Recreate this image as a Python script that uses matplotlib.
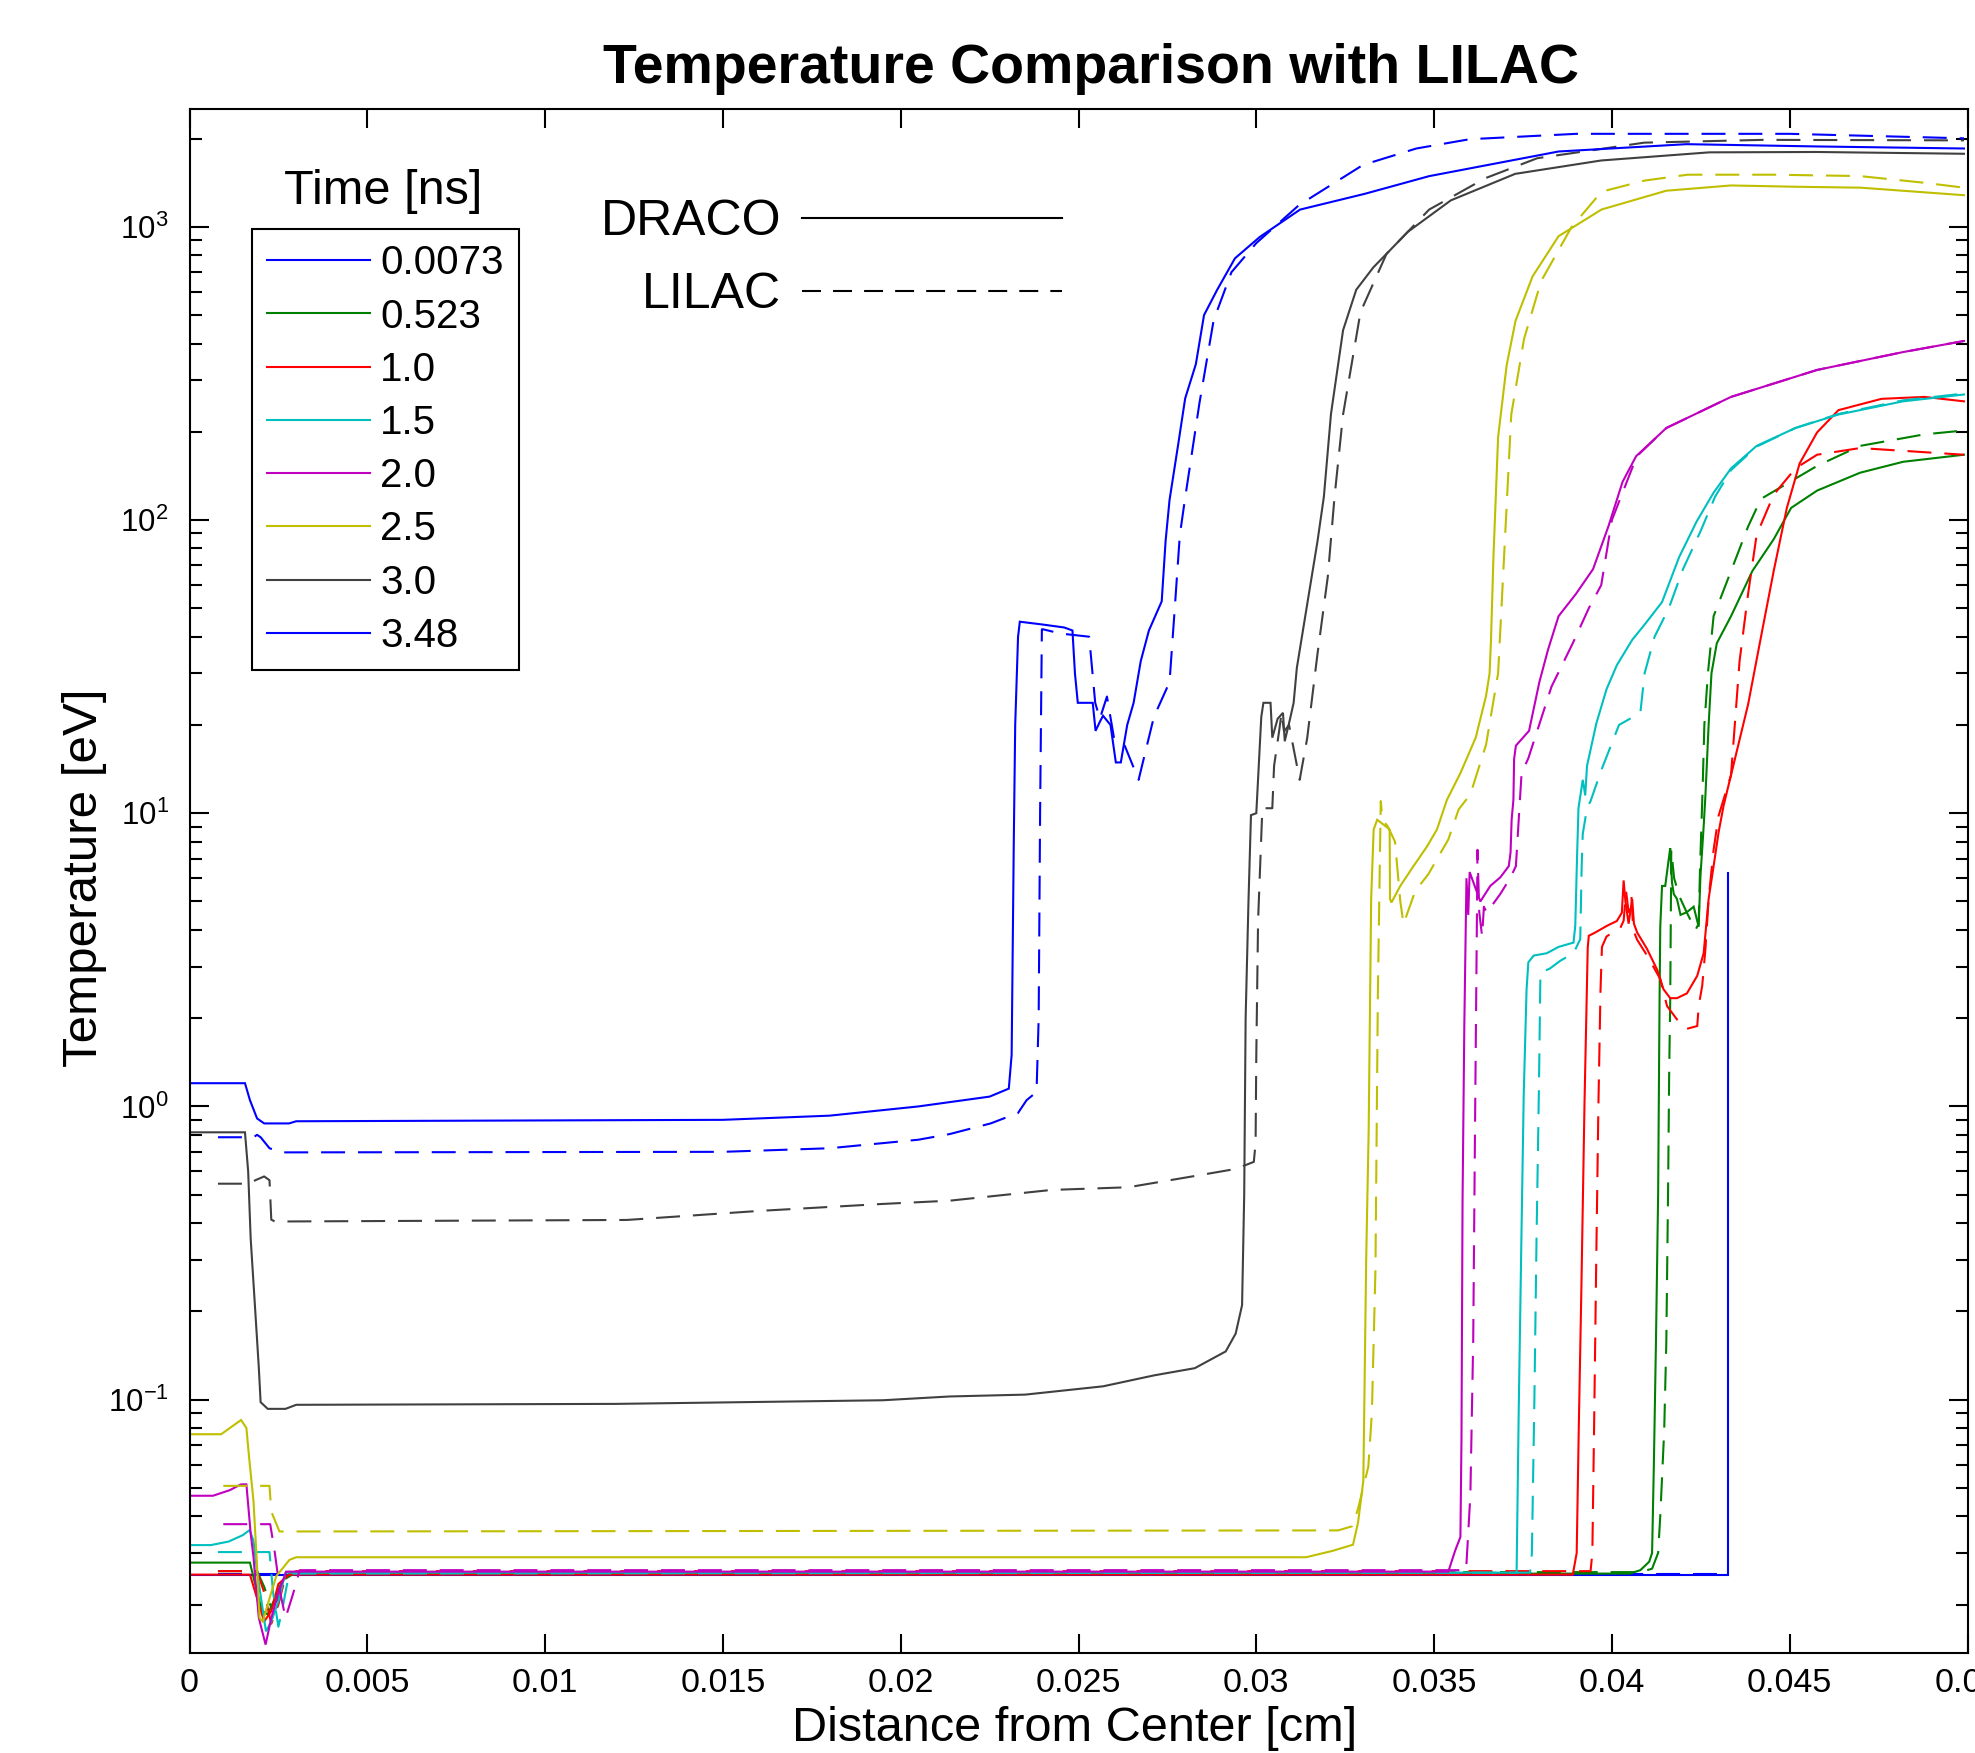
import numpy as np
import matplotlib
matplotlib.use("Agg")
import matplotlib.pyplot as plt
from matplotlib.lines import Line2D
from matplotlib.ticker import LogLocator, NullFormatter

plt.rcParams['font.family'] = ['Liberation Sans', 'DejaVu Sans']
plt.rcParams['mathtext.fontset'] = 'custom'
plt.rcParams['mathtext.rm'] = 'Liberation Sans'
plt.rcParams['mathtext.it'] = 'Liberation Sans:italic'
plt.rcParams['mathtext.bf'] = 'Liberation Sans:bold'
plt.rcParams['mathtext.default'] = 'regular'

# legend entries (time in ns) and MATLAB-style line colours
times = ['0.0073', '0.523', '1.0', '1.5', '2.0', '2.5', '3.0', '3.48']
colors = ['#0000ff', '#008000', '#ff0000', '#00bfbf', '#bf00bf', '#bfbf00', '#404040', '#0000ff']

xticks = [0, 0.005, 0.01, 0.015, 0.02, 0.025, 0.03, 0.035, 0.04, 0.045, 0.05]
xtick_labels = ['0', '0.005', '0.01', '0.015', '0.02', '0.025', '0.03', '0.035', '0.04', '0.045', '0.05']
yticks = [0.1, 1, 10, 100, 1000]
ytick_labels = [r'$10^{-1}$', r'$10^{0}$', r'$10^{1}$', r'$10^{2}$', r'$10^{3}$']

# ---- t = 0.0073 ns
draco_x_0073 = [0.0, 0.04327, 0.04327]
draco_t_0073 = [0.0252, 0.0252, 6.25]
lilac_x_0073 = [0.0008, 0.0432]
lilac_t_0073 = [0.0254, 0.0254]

# ---- t = 0.523 ns
draco_x_0523 = [0.0, 0.0017, 0.0019, 0.00205, 0.0022, 0.0024, 0.0026, 0.0028, 0.0405, 0.0408,
                0.04105, 0.04113, 0.04118, 0.04124, 0.0413, 0.04134, 0.04136, 0.04141, 0.0415,
                0.0416, 0.04164, 0.04169, 0.04174, 0.04183, 0.04193, 0.04211, 0.0423, 0.04244,
                0.04249, 0.04258, 0.04263, 0.04272, 0.0428, 0.04295, 0.04335, 0.04395, 0.04455,
                0.04504, 0.04577, 0.04698, 0.04819, 0.0499]
draco_t_0523 = [0.0278, 0.0278, 0.022, 0.019, 0.0185, 0.021, 0.024, 0.0255, 0.0255, 0.0262,
                0.028, 0.03, 0.06, 0.16, 0.5, 2.3, 4.1, 5.65, 5.65,
                7.0, 7.6, 5.8, 5.3, 5.1, 4.5, 4.6, 4.8, 4.1,
                6.1, 9.0, 11.5, 20, 30, 38, 47, 67, 86,
                110, 126, 145, 158, 167]
lilac_x_0523 = [0.0008, 0.0019, 0.0021, 0.0023, 0.0025, 0.0027, 0.003, 0.0408, 0.04113, 0.0413,
                0.04136, 0.04147, 0.04153, 0.04158, 0.04161, 0.04164, 0.04167, 0.04175, 0.0419,
                0.0421, 0.04235, 0.04244, 0.04248, 0.04255, 0.0426, 0.0427, 0.04286, 0.04335,
                0.04383, 0.04419, 0.04577, 0.04698, 0.04879, 0.0499]
lilac_t_0523 = [0.026, 0.026, 0.023, 0.0195, 0.021, 0.0245, 0.0258, 0.0258, 0.0265, 0.03,
                0.04, 0.078, 0.156, 0.52, 1.28, 2.3, 7.5, 6.0, 5.2,
                4.6, 4.0, 4.2, 6.6, 12, 20, 30, 47, 67,
                95, 118, 153, 179, 196, 202]

# ---- t = 1.0 ns
draco_x_10 = [0.0, 0.0017, 0.0019, 0.0021, 0.0023, 0.0025, 0.0028, 0.0389, 0.03901, 0.03907,
              0.03914, 0.03923, 0.03932, 0.03935, 0.0395, 0.03986, 0.04014, 0.04028, 0.04033,
              0.04038, 0.04047, 0.04057, 0.04062, 0.04071, 0.04099, 0.04127, 0.04145, 0.04164,
              0.04183, 0.04211, 0.0424, 0.04258, 0.04272, 0.04286, 0.043, 0.04314, 0.04335,
              0.04383, 0.04419, 0.04455, 0.04492, 0.04528, 0.04577, 0.04637, 0.04758, 0.04879,
              0.0499]
draco_t_10 = [0.0253, 0.0253, 0.021, 0.0175, 0.019, 0.0235, 0.0253, 0.0253, 0.03, 0.082,
              0.233, 1.03, 3.47, 3.82, 3.9, 4.13, 4.29, 4.58, 5.9,
              5.0, 4.2, 5.1, 4.2, 3.92, 3.44, 2.93, 2.51, 2.34,
              2.34, 2.43, 2.79, 3.33, 5.1, 6.6, 8.6, 10.6, 13.5,
              23.5, 39.8, 67, 110, 156, 199, 237, 259, 263,
              254]
lilac_x_10 = [0.0008, 0.0019, 0.0021, 0.0023, 0.0025, 0.0027, 0.003, 0.0394, 0.03945, 0.0395,
              0.03956, 0.03962, 0.03968, 0.03972, 0.03985, 0.04024, 0.04033, 0.0404, 0.04047,
              0.04055, 0.0406, 0.04071, 0.04099, 0.04136, 0.04155, 0.04183, 0.04211, 0.0424,
              0.04244, 0.04254, 0.04263, 0.04272, 0.04286, 0.043, 0.04335, 0.04359, 0.04383,
              0.04407, 0.04455, 0.04516, 0.04577, 0.04698, 0.0499]
lilac_t_10 = [0.026, 0.026, 0.022, 0.0172, 0.02, 0.025, 0.026, 0.026, 0.03, 0.082,
              0.3, 1.0, 2.5, 3.5, 3.8, 4.07, 4.3, 5.4, 4.6,
              5.2, 4.0, 3.7, 3.27, 2.72, 2.2, 1.98, 1.84, 1.88,
              2.2, 2.58, 3.44, 5.1, 7.5, 9.8, 13.5, 33, 56,
              89, 122, 150, 167, 176, 167]

# ---- t = 1.5 ns
draco_x_15 = [0.0, 0.0006, 0.0011, 0.0015, 0.00169, 0.0018, 0.0019, 0.002, 0.00215, 0.0023,
              0.0025, 0.0027, 0.03732, 0.03738, 0.03745, 0.03752, 0.0376, 0.03765, 0.0378,
              0.03817, 0.0385, 0.03892, 0.03897, 0.03902, 0.03906, 0.03918, 0.03925, 0.0393,
              0.03956, 0.03985, 0.04014, 0.04057, 0.04092, 0.04141, 0.04189, 0.04238, 0.04286,
              0.04335, 0.04407, 0.04516, 0.04637, 0.04819, 0.0499]
draco_t_15 = [0.0319, 0.0319, 0.0328, 0.0345, 0.0359, 0.033, 0.026, 0.0215, 0.0162, 0.0175,
              0.0205, 0.0257, 0.0257, 0.092, 0.325, 1.09, 2.5, 3.1, 3.27,
              3.33, 3.5, 3.62, 4.13, 7.1, 10.4, 13, 11.5, 14.5,
              20.2, 26.5, 32, 39, 44, 52.5, 74.7, 98.7, 124,
              150, 179, 206, 229, 254, 268]
lilac_x_15 = [0.0008, 0.00225, 0.00235, 0.0025, 0.0026, 0.0028, 0.0377, 0.03775, 0.03782, 0.03788,
              0.03795, 0.03799, 0.03825, 0.03855, 0.03892, 0.03911, 0.03915, 0.03918, 0.0393,
              0.0394, 0.0397, 0.0402, 0.0408, 0.04092, 0.0412, 0.0416, 0.042, 0.0425,
              0.0429, 0.04335, 0.04407, 0.04516, 0.04637, 0.04819, 0.0499]
lilac_t_15 = [0.0302, 0.0302, 0.022, 0.0168, 0.019, 0.0255, 0.0257, 0.03, 0.1, 0.35,
              1.2, 2.86, 2.95, 3.14, 3.33, 3.72, 6.6, 8.5, 10.4,
              11, 14, 20, 22, 30, 40, 50, 68, 92,
              120, 148, 178, 206, 230, 256, 270]

# ---- t = 2.0 ns
draco_x_20 = [0.0, 0.00066, 0.00113, 0.00145, 0.0016, 0.00172, 0.0018, 0.00185, 0.00195, 0.00214,
              0.0023, 0.0025, 0.00272, 0.0354, 0.03559, 0.03574, 0.03577, 0.0358, 0.03585,
              0.03591, 0.03596, 0.036, 0.0363, 0.03658, 0.03686, 0.0371, 0.03715, 0.03718,
              0.03723, 0.03725, 0.0373, 0.03767, 0.03796, 0.0382, 0.0385, 0.03899, 0.03947,
              0.0399, 0.0403, 0.04068, 0.04153, 0.04335, 0.04577, 0.04819, 0.0499]
draco_t_20 = [0.047, 0.047, 0.0491, 0.0514, 0.0514, 0.035, 0.029, 0.0245, 0.018, 0.0146,
              0.018, 0.022, 0.0259, 0.0259, 0.0305, 0.034, 0.0736, 0.477, 1.9,
              6.0, 4.5, 6.3, 5.0, 5.65, 6.04, 6.6, 7.35, 9.5,
              11.1, 15.3, 17, 19.1, 28, 36, 47, 56, 68,
              95, 135, 165, 206, 263, 325, 374, 408]
lilac_x_20 = [0.00095, 0.00227, 0.0024, 0.00255, 0.0027, 0.0029, 0.0031, 0.0359, 0.03602, 0.0361,
              0.03615, 0.0362, 0.03622, 0.03627, 0.03635, 0.0364, 0.03648, 0.03686, 0.03715,
              0.0373, 0.03737, 0.03746, 0.03765, 0.03801, 0.0383, 0.0389, 0.03935, 0.0397,
              0.04, 0.0407, 0.04153, 0.04335, 0.04577, 0.04819, 0.0499]
lilac_t_20 = [0.0376, 0.0376, 0.03, 0.022, 0.018, 0.0215, 0.0262, 0.0262, 0.0473, 0.159,
              0.83, 3.87, 7.5, 4.6, 3.8, 4.8, 4.58, 5.3, 6.04,
              6.6, 9.1, 13.7, 15.4, 21, 27, 38, 50, 60,
              100, 165, 206, 263, 325, 374, 408]

# ---- t = 2.5 ns
draco_x_25 = [0.0, 0.00089, 0.00145, 0.0016, 0.00167, 0.0018, 0.00188, 0.00197, 0.00206, 0.00225,
              0.00244, 0.00281, 0.003, 0.0314, 0.03215, 0.03272, 0.03286, 0.03301, 0.03309,
              0.03316, 0.03323, 0.0333, 0.0334, 0.03365, 0.03375, 0.03376, 0.0338, 0.03405,
              0.03442, 0.0348, 0.03508, 0.03536, 0.03574, 0.03617, 0.03646, 0.03656, 0.0366,
              0.03667, 0.0368, 0.03704, 0.03729, 0.03777, 0.0385, 0.03971, 0.04153, 0.04335,
              0.04517, 0.047, 0.0499]
draco_t_25 = [0.0762, 0.0762, 0.0852, 0.08, 0.0647, 0.045, 0.03, 0.018, 0.0175, 0.021,
              0.025, 0.0284, 0.029, 0.029, 0.0305, 0.032, 0.038, 0.0529, 0.3,
              0.83, 5.1, 8.8, 9.5, 9.0, 8.8, 5.1, 4.96, 5.65,
              6.6, 7.7, 8.8, 11.1, 13.7, 18.1, 25.1, 30, 39,
              75.7, 192, 337, 478, 678, 929, 1146, 1328, 1384,
              1370, 1360, 1282]
lilac_x_25 = [0.00095, 0.00225, 0.0023, 0.00253, 0.0323, 0.0327, 0.03286, 0.03315, 0.03325, 0.03335,
              0.03342, 0.0335, 0.03355, 0.0337, 0.0339, 0.03405, 0.03414, 0.03447, 0.03484,
              0.03508, 0.0354, 0.03569, 0.03602, 0.03646, 0.0368, 0.03695, 0.03717, 0.03753,
              0.03801, 0.03886, 0.03971, 0.04092, 0.04213, 0.04455, 0.04697, 0.0488, 0.0499]
lilac_t_25 = [0.0508, 0.0508, 0.0415, 0.0355, 0.0358, 0.037, 0.0424, 0.059, 0.09, 0.275,
              2.5, 11.0, 9.5, 9.0, 8.0, 5.0, 4.19, 5.43, 6.2,
              6.97, 8.14, 10.3, 11.6, 17.1, 30, 68, 229, 415,
              653, 996, 1318, 1438, 1506, 1506, 1490, 1413, 1360]

# ---- t = 3.0 ns
draco_x_30 = [0.0, 0.00156, 0.00165, 0.00172, 0.00185, 0.00195, 0.002, 0.0022, 0.0027, 0.003,
              0.012, 0.0195, 0.02138, 0.0235, 0.02569, 0.02713, 0.02827, 0.02914, 0.02942,
              0.0296, 0.02966, 0.0297, 0.02978, 0.02985, 0.03, 0.03014, 0.0302, 0.0304,
              0.03045, 0.0306, 0.03075, 0.0308, 0.03095, 0.03105, 0.03114, 0.03143, 0.03172,
              0.0319, 0.0321, 0.03244, 0.03281, 0.03329, 0.03426, 0.03547, 0.03728, 0.0397,
              0.04274, 0.04577, 0.0499]
draco_t_30 = [0.816, 0.816, 0.6, 0.355, 0.2, 0.128, 0.098, 0.093, 0.093, 0.096,
              0.0967, 0.0995, 0.1025, 0.104, 0.111, 0.121, 0.128, 0.146, 0.168,
              0.21, 0.5, 2.0, 5.0, 9.85, 10, 21.3, 23.8, 23.8,
              18.1, 21, 22, 17.6, 21, 23.8, 31.3, 51.5, 84.5,
              120, 230, 444, 610, 727, 961, 1231, 1516, 1684,
              1795, 1800, 1775]
lilac_x_30 = [0.0008, 0.0017, 0.00185, 0.0021, 0.00225, 0.0023, 0.0024, 0.0123, 0.016, 0.0195,
              0.02138, 0.02424, 0.0264, 0.02827, 0.02942, 0.02993, 0.02998, 0.03, 0.03005,
              0.03017, 0.03045, 0.0305, 0.03064, 0.03071, 0.03078, 0.03092, 0.03122, 0.03143,
              0.03172, 0.03201, 0.0322, 0.03244, 0.03293, 0.03366, 0.03486, 0.03644, 0.0379,
              0.04091, 0.04425, 0.0499]
lilac_t_30 = [0.545, 0.545, 0.56, 0.577, 0.56, 0.411, 0.405, 0.41, 0.44, 0.465,
              0.477, 0.519, 0.53, 0.579, 0.612, 0.647, 0.75, 1.5, 4.3,
              10.4, 10.4, 14.5, 19, 22, 19, 20, 13, 18,
              34.9, 64, 120, 229, 512, 808, 1145, 1465, 1714,
              1937, 1980, 1972]

# ---- t = 3.48 ns
draco_x_348 = [0.0, 0.00156, 0.0017, 0.0019, 0.0021, 0.0028, 0.003, 0.015, 0.018, 0.0205,
               0.0225, 0.02304, 0.02312, 0.02318, 0.02322, 0.0233, 0.02335, 0.024, 0.0246,
               0.02483, 0.0249, 0.02498, 0.0254, 0.02548, 0.0256, 0.02569, 0.0259, 0.02605,
               0.02619, 0.02637, 0.02655, 0.02675, 0.02698, 0.02734, 0.02745, 0.02756, 0.0278,
               0.028, 0.0283, 0.02853, 0.0289, 0.0294, 0.0301, 0.03123, 0.03305, 0.03486,
               0.0385, 0.0421, 0.04577, 0.0499]
draco_t_348 = [1.2, 1.2, 1.05, 0.91, 0.875, 0.875, 0.89, 0.9, 0.93, 1.0,
               1.08, 1.15, 1.5, 8, 20, 40, 45, 44, 43,
               42, 30, 23.8, 23.8, 19.1, 20.5, 21.5, 20, 14.9,
               14.9, 20, 23.8, 33, 42, 52.8, 85, 117, 180,
               260, 340, 500, 610, 781, 924, 1145, 1296, 1489,
               1807, 1914, 1880, 1850]
lilac_x_348 = [0.0008, 0.0018, 0.0019, 0.002, 0.00225, 0.00257, 0.015, 0.018, 0.0205, 0.02138,
               0.02253, 0.0233, 0.02354, 0.02382, 0.02388, 0.02392, 0.02397, 0.024, 0.0245,
               0.0253, 0.02547, 0.0256, 0.0258, 0.026, 0.0263, 0.02669, 0.02712, 0.02756,
               0.0277, 0.02785, 0.02799, 0.0284, 0.0288, 0.0293, 0.03, 0.0312, 0.033,
               0.0345, 0.036, 0.039, 0.045, 0.0499]
lilac_t_348 = [0.785, 0.785, 0.8, 0.785, 0.72, 0.697, 0.70, 0.72, 0.77, 0.805,
               0.875, 0.95, 1.05, 1.12, 2.0, 10, 42.4, 42.4, 41,
               40, 23.8, 21, 25, 18, 17, 13.0, 21.3, 28,
               48.6, 89, 117, 250, 480, 700, 880, 1186, 1626,
               1850, 1990, 2076, 2076, 2004]

draco_x = [draco_x_0073, draco_x_0523, draco_x_10, draco_x_15, draco_x_20, draco_x_25, draco_x_30, draco_x_348]
draco_t = [draco_t_0073, draco_t_0523, draco_t_10, draco_t_15, draco_t_20, draco_t_25, draco_t_30, draco_t_348]
lilac_x = [lilac_x_0073, lilac_x_0523, lilac_x_10, lilac_x_15, lilac_x_20, lilac_x_25, lilac_x_30, lilac_x_348]
lilac_t = [lilac_t_0073, lilac_t_0523, lilac_t_10, lilac_t_15, lilac_t_20, lilac_t_25, lilac_t_30, lilac_t_348]

LW = 1.5
DASH = (0, (11.5, 6.2))

fig = plt.figure(figsize=(19.75, 17.53), dpi=100)
ax = fig.add_axes([189.5 / 1975, 1 - 1653 / 1753, 1778 / 1975, 1543.6 / 1753])

for i in range(len(times)):
    ax.plot(draco_x[i], draco_t[i], color=colors[i], lw=LW, solid_joinstyle='miter')
    ax.plot(lilac_x[i], lilac_t[i], color=colors[i], lw=LW, linestyle=DASH)

ax.set_yscale('log')
ax.set_xlim(0, 0.05)
ax.set_ylim(0.01367, 2515)

ax.set_xticks(xticks)
ax.set_xticklabels(xtick_labels, fontsize=24.5)
ax.set_yticks(yticks)
ax.set_yticklabels(ytick_labels, fontsize=22.5)
ax.yaxis.set_minor_locator(LogLocator(base=10, subs=np.arange(2, 10), numticks=100))
ax.yaxis.set_minor_formatter(NullFormatter())

ax.tick_params(which='both', direction='in', top=True, right=True, width=1.5, colors='black')
ax.tick_params(which='major', length=13.5)
ax.tick_params(which='minor', length=8.5)
ax.tick_params(axis='x', pad=11)
ax.tick_params(axis='y', pad=15)
for sp in ax.spines.values():
    sp.set_linewidth(1.5)

ax.set_title('Temperature Comparison with LILAC', fontsize=40, fontweight='bold', x=0.507, pad=18.8)
ax.set_xlabel('Distance from Center [cm]', fontsize=35)
ax.set_ylabel('Temperature [eV]', fontsize=35.5)
ax.xaxis.set_label_coords(0.498, -0.0345)
ax.yaxis.set_label_coords(-0.0466, 0.502)

# time legend (title drawn above the box, as in the original)
time_handles = [Line2D([], [], color=c, lw=LW) for c in colors]
leg1 = ax.legend(time_handles, times, loc='upper left', bbox_to_anchor=(0.0352, 0.9225),
                 frameon=True, fancybox=False, edgecolor='black', framealpha=1,
                 fontsize=29, handlelength=2.55, handletextpad=0.25, labelspacing=0.378,
                 borderpad=0.38, borderaxespad=0)
leg1.get_frame().set_linewidth(1.5)
ax.add_artist(leg1)
ax.text(0.1088, 0.9465, 'Time [ns]', transform=ax.transAxes, fontsize=35,
        ha='center', va='center')

# code legend: labels left of the line samples
code_handles = [Line2D([], [], color='black', lw=LW),
                Line2D([], [], color='black', lw=LW, linestyle=(0, (9.1, 5.8)))]
ax.legend(code_handles, ['DRACO', 'LILAC'], loc='upper right', bbox_to_anchor=(0.4907, 0.9417),
          frameon=False, markerfirst=False, fontsize=36, handlelength=5.2,
          handletextpad=0.42, labelspacing=0.536, borderpad=0, borderaxespad=0)

fig.savefig('out.png', dpi=100)
